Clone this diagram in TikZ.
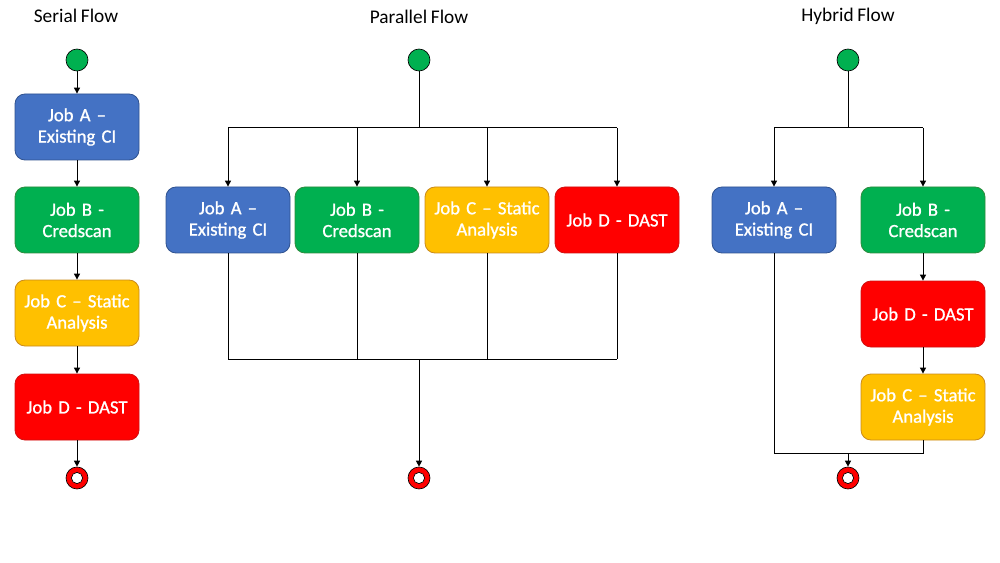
\documentclass[tikz,border=0pt]{standalone}
\usepackage{fontspec}
\setmainfont[WordSpace=0.85]{Carlito}
\newfontfamily\jobfont[Ligatures=TeX,WordSpace=0.85,FakeBold=1]{Carlito}
\usepackage{xcolor}
\usepackage{tikz}
\usetikzlibrary{positioning, shapes.geometric, arrows.meta, calc}
\definecolor{jobblue}{HTML}{4472C4}
\definecolor{jobblueline}{HTML}{2F528F}
\definecolor{jobgreen}{HTML}{00B050}
\definecolor{jobgreenline}{HTML}{2E8B3E}
\definecolor{joborange}{HTML}{FFC000}
\definecolor{joborangeline}{HTML}{C98A1C}
\definecolor{jobred}{HTML}{FF0000}
\definecolor{jobredline}{HTML}{D01010}

\begin{document}
\begin{tikzpicture}[x=0.75pt,y=-0.75pt,font=\fontsize{14}{16}\selectfont,
  job/.style={rounded corners=7.5pt, minimum width=93pt, minimum height=49.5pt,
    text width=88pt, align=center, text=white, line width=0.6pt, inner sep=2pt,
    font=\jobfont\fontsize{14}{16}\selectfont},
  ja/.style={job, fill=jobblue, draw=jobblueline},
  jb/.style={job, fill=jobgreen, draw=jobgreenline},
  jc/.style={job, fill=joborange, draw=joborangeline},
  jd/.style={job, fill=jobred, draw=jobredline},
  startnode/.style={circle, draw=black, fill=jobgreen, minimum size=16.5pt, inner sep=0pt, line width=0.5pt},
  endnode/.style={circle, draw=black, fill=jobred, minimum size=16.5pt, inner sep=0pt, line width=0.5pt,
    path picture={\draw[fill=white,line width=0.5pt] (path picture bounding box.center) circle (4.2pt);}},
  ttl/.style={font=\fontsize{14.5}{16}\selectfont},
  arr/.style={-{Triangle[length=4.5pt,width=4.5pt]}, line width=0.75pt},
  ln/.style={line width=0.75pt}]
\useasboundingbox (0,0) rectangle (1000,563);

% titles
\node[ttl](title1) at (76,16){Serial Flow};
\node[ttl](title2) at (419,17){Parallel Flow};
\node[ttl](title3) at (848,16){Hybrid Flow};

% serial flow
\node[startnode](start1) at (77,60){};
\node[ja](jobA1) at (77,127){Job A –\\Existing CI};
\node[jb](jobB1) at (77,220){Job B -\\Credscan};
\node[jc](jobC1) at (77,313){Job C – Static\\Analysis};
\node[jd](jobD1) at (77,407){Job D - DAST};
\node[endnode](end1) at (77,478){};
\foreach \a/\b in {start1/jobA1,jobA1/jobB1,jobB1/jobC1,jobC1/jobD1,jobD1/end1}{
  \draw[arr](\a)--(\b);}

% parallel flow
\node[startnode](start2) at (419,60){};
\node[ja](jobA2) at (228,220){Job A –\\Existing CI};
\node[jb](jobB2) at (357,220){Job B -\\Credscan};
\node[jc](jobC2) at (487,220){Job C – Static\\Analysis};
\node[jd](jobD2) at (617,220){Job D - DAST};
\node[endnode](end2) at (419,478){};
\coordinate(split2) at (419,128);
\coordinate(merge2) at (419,359);
\draw[ln](start2)--(split2);
\draw[ln](split2 -| jobA2)--(split2 -| jobD2);
\foreach \b in {jobA2,jobB2,jobC2,jobD2}{
  \draw[arr](split2 -| \b)--(\b);
  \draw[ln](\b)--(\b |- merge2);}
\draw[ln](merge2 -| jobA2)--(merge2 -| jobD2);
\draw[arr](merge2)--(end2);

% hybrid flow
\node[startnode](start3) at (848,60){};
\node[ja](jobA3) at (774,220){Job A –\\Existing CI};
\node[jb](jobB3) at (923,220){Job B -\\Credscan};
\node[jd](jobD3) at (923,314){Job D - DAST};
\node[jc](jobC3) at (923,407){Job C – Static\\Analysis};
\node[endnode](end3) at (848,478){};
\coordinate(split3) at (848,128);
\coordinate(merge3) at (848,453);
\draw[ln](start3)--(split3);
\draw[ln](split3 -| jobA3)--(split3 -| jobB3);
\foreach \b in {jobA3,jobB3}{
  \draw[arr](split3 -| \b)--(\b);}
\foreach \a/\b in {jobB3/jobD3,jobD3/jobC3}{
  \draw[arr](\a)--(\b);}
\draw[ln](jobA3)--(jobA3 |- merge3)--(jobC3 |- merge3)--(jobC3);
\draw[arr](merge3)--(end3);

\end{tikzpicture}
\end{document}
